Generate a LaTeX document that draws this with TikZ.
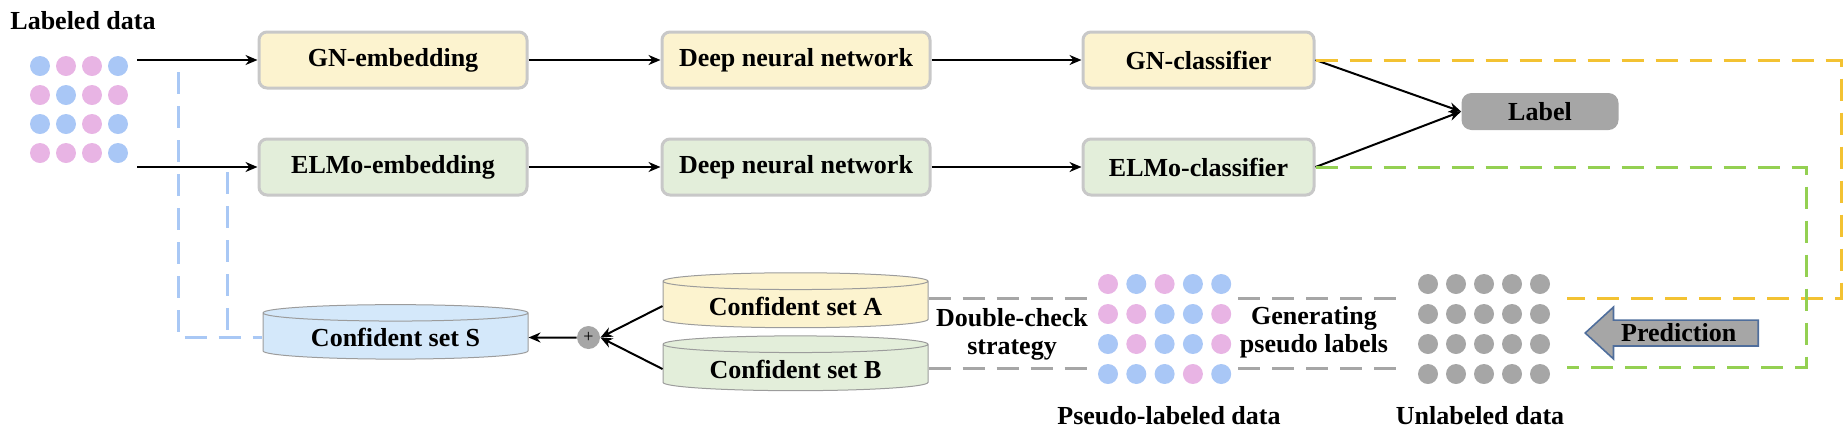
\documentclass[tikz,border=0pt]{standalone}
\usepackage{fontspec}
\setmainfont{Liberation Serif}
\usetikzlibrary{arrows.meta, positioning, shapes.geometric, shapes.arrows}

\definecolor{cream}{HTML}{FCF3CF}
\definecolor{mint}{HTML}{E3EEDA}
\definecolor{skyfill}{HTML}{D4E8FA}
\definecolor{boxline}{HTML}{C8C8C8}
\definecolor{cylline}{HTML}{9C9C9C}
\definecolor{grayfill}{HTML}{A6A6A6}
\definecolor{dotb}{HTML}{A9C7F6}
\definecolor{dotp}{HTML}{E8B4E4}
\definecolor{dashy}{HTML}{F3C232}
\definecolor{dashg}{HTML}{94D052}
\definecolor{dashb}{HTML}{A9C8F5}
\definecolor{predline}{HTML}{4F6E9C}

\begin{document}
\begin{tikzpicture}[x=0.5pt, y=-0.5pt,
		every node/.style={font=\fontsize{13}{14}\selectfont\bfseries},
		box/.style={draw=boxline, line width=1.5pt, rounded corners=4pt,
			minimum width=134pt, minimum height=28pt, align=center},
		clsbox/.style={box, minimum width=115.5pt},
		store/.style={cylinder, shape border rotate=90, draw=cylline,
			line width=0.5pt, aspect=0.09, minimum width=132.5pt},
		arr/.style={-{Stealth[length=6pt, width=5pt]}, line width=1pt},
		link/.style={line width=1.5pt, dash pattern=on 11pt off 6pt},
		pred/.style={single arrow, shape border rotate=180, fill=grayfill,
			draw=predline, line width=0.8pt, single arrow head extend=6.5pt,
			single arrow tip angle=85, minimum width=24pt,
			minimum height=86.5pt, inner xsep=1pt, inner ysep=1.5pt},
		]
		\useasboundingbox (0,0) rectangle (1847,430);

		% Labeled data
		\node (labdata) at (83,21) {Labeled data};
		\foreach \row [count=\r from 0] in {{dotb,dotp,dotp,dotb},{dotp,dotb,dotp,dotp},
				{dotb,dotb,dotp,dotb},{dotp,dotp,dotp,dotb}}
			\foreach \c [count=\k from 0] in \row
				\fill[\c] (40+26*\k, 66+29*\r) circle[radius=5pt];
		\coordinate (lin1) at (137,60);
		\coordinate (lin2) at (137,167);

		% Two branches
		\node[box, fill=cream] (gnemb) at (393,60) {GN-embedding};
		\node[box, fill=cream, right=66pt of gnemb] (gndnn) {Deep neural network};
		\node[clsbox, fill=cream, right=75pt of gndnn] (gncls) {GN-classifier};
		\node[box, fill=mint, below=24pt of gnemb] (elmoemb) {ELMo-embedding};
		\node[box, fill=mint, right=66pt of elmoemb] (elmodnn) {Deep neural network};
		\node[clsbox, fill=mint, right=75pt of elmodnn] (elmocls) {ELMo-classifier};
		\node[fill=grayfill, rounded corners=5pt, minimum width=78.5pt,
			minimum height=18.5pt] (label) at (1540,111.5) {Label};

		% Confident sets
		\node[store, fill=skyfill, minimum height=27pt] (confS) at (395.5,337.5) {Confident set S};
		\node[store, fill=cream, minimum height=24pt] (confA) at (795.5,306) {Confident set A};
		\node[store, fill=mint, minimum height=24pt] (confB) at (795.5,369) {Confident set B};
		\node[circle, fill=grayfill, minimum size=11.5pt, inner sep=0pt,
			font=\fontsize{9}{9}\selectfont\mdseries] (plus) at (588.5,337.5) {+};

		% Pseudo-labeled and unlabeled data
		\foreach \row [count=\r from 0] in {{dotp,dotb,dotp,dotb,dotb},{dotp,dotp,dotb,dotb,dotp},
				{dotb,dotp,dotb,dotb,dotp},{dotb,dotb,dotb,dotp,dotb}}
			\foreach \c [count=\k from 0] in \row
				\fill[\c] (1108+28.3*\k, 284+30*\r) circle[radius=5pt];
		\foreach \r in {0,...,3}
			\foreach \k in {0,...,4}
				\fill[grayfill] (1428+28*\k, 284+30*\r) circle[radius=5pt];
		\node[align=center] (dcheck) at (1012,334) {Double-check\\strategy};
		\node[align=center] (genpl) at (1314,332) {Generating\\pseudo labels};
		\node (pslab) at (1169,416) {Pseudo-labeled data};
		\node (unlab) at (1480,416) {Unlabeled data};
		\node[pred, anchor=tip] (pred) at (1584,333) {Prediction};

		% Arrows
		\draw[arr] (lin1) -- (gnemb);
		\draw[arr] (gnemb) -- (gndnn);
		\draw[arr] (gndnn) -- (gncls);
		\draw[arr] (lin2) -- (elmoemb);
		\draw[arr] (elmoemb) -- (elmodnn);
		\draw[arr] (elmodnn) -- (elmocls);
		\draw[arr] (gncls.east) -- (label.west);
		\draw[arr] (elmocls.east) -- (label.west);
		\draw[arr] (plus) -- (confS);
		\draw[arr] (confA.west) -- (plus.east);
		\draw[arr] (confB.west) -- (plus.east);

		% Dashed links
		\coordinate (yturn) at (1841,298);
		\coordinate (yend) at (1567,298);
		\coordinate (gturn) at (1806,367);
		\coordinate (gend) at (1567,367);
		\draw[link, dashy] (gncls.east) -| (yturn) -- (yend);
		\draw[link, dashg] (elmocls.east) -| (gturn) -- (gend);
		\coordinate (pstop) at (1087,298);
		\coordinate (pstopr) at (1238,298);
		\coordinate (ultop) at (1401,298);
		\coordinate (psbot) at (1087,368);
		\coordinate (psbotr) at (1238,368);
		\coordinate (ulbot) at (1401,368);
		\draw[link, grayfill] (confA.east |- pstop) -- (pstop);
		\draw[link, grayfill] (pstopr) -- (ultop);
		\draw[link, grayfill] (confB.east |- psbot) -- (psbot);
		\draw[link, grayfill] (psbotr) -- (ulbot);
		\coordinate (back1) at (178,72);
		\coordinate (back2) at (227,172);
		\draw[link, dashb] (back1) |- (confS.west);
		\draw[link, dashb] (back2) -- (back2 |- confS.west);
	\end{tikzpicture}
\end{document}
